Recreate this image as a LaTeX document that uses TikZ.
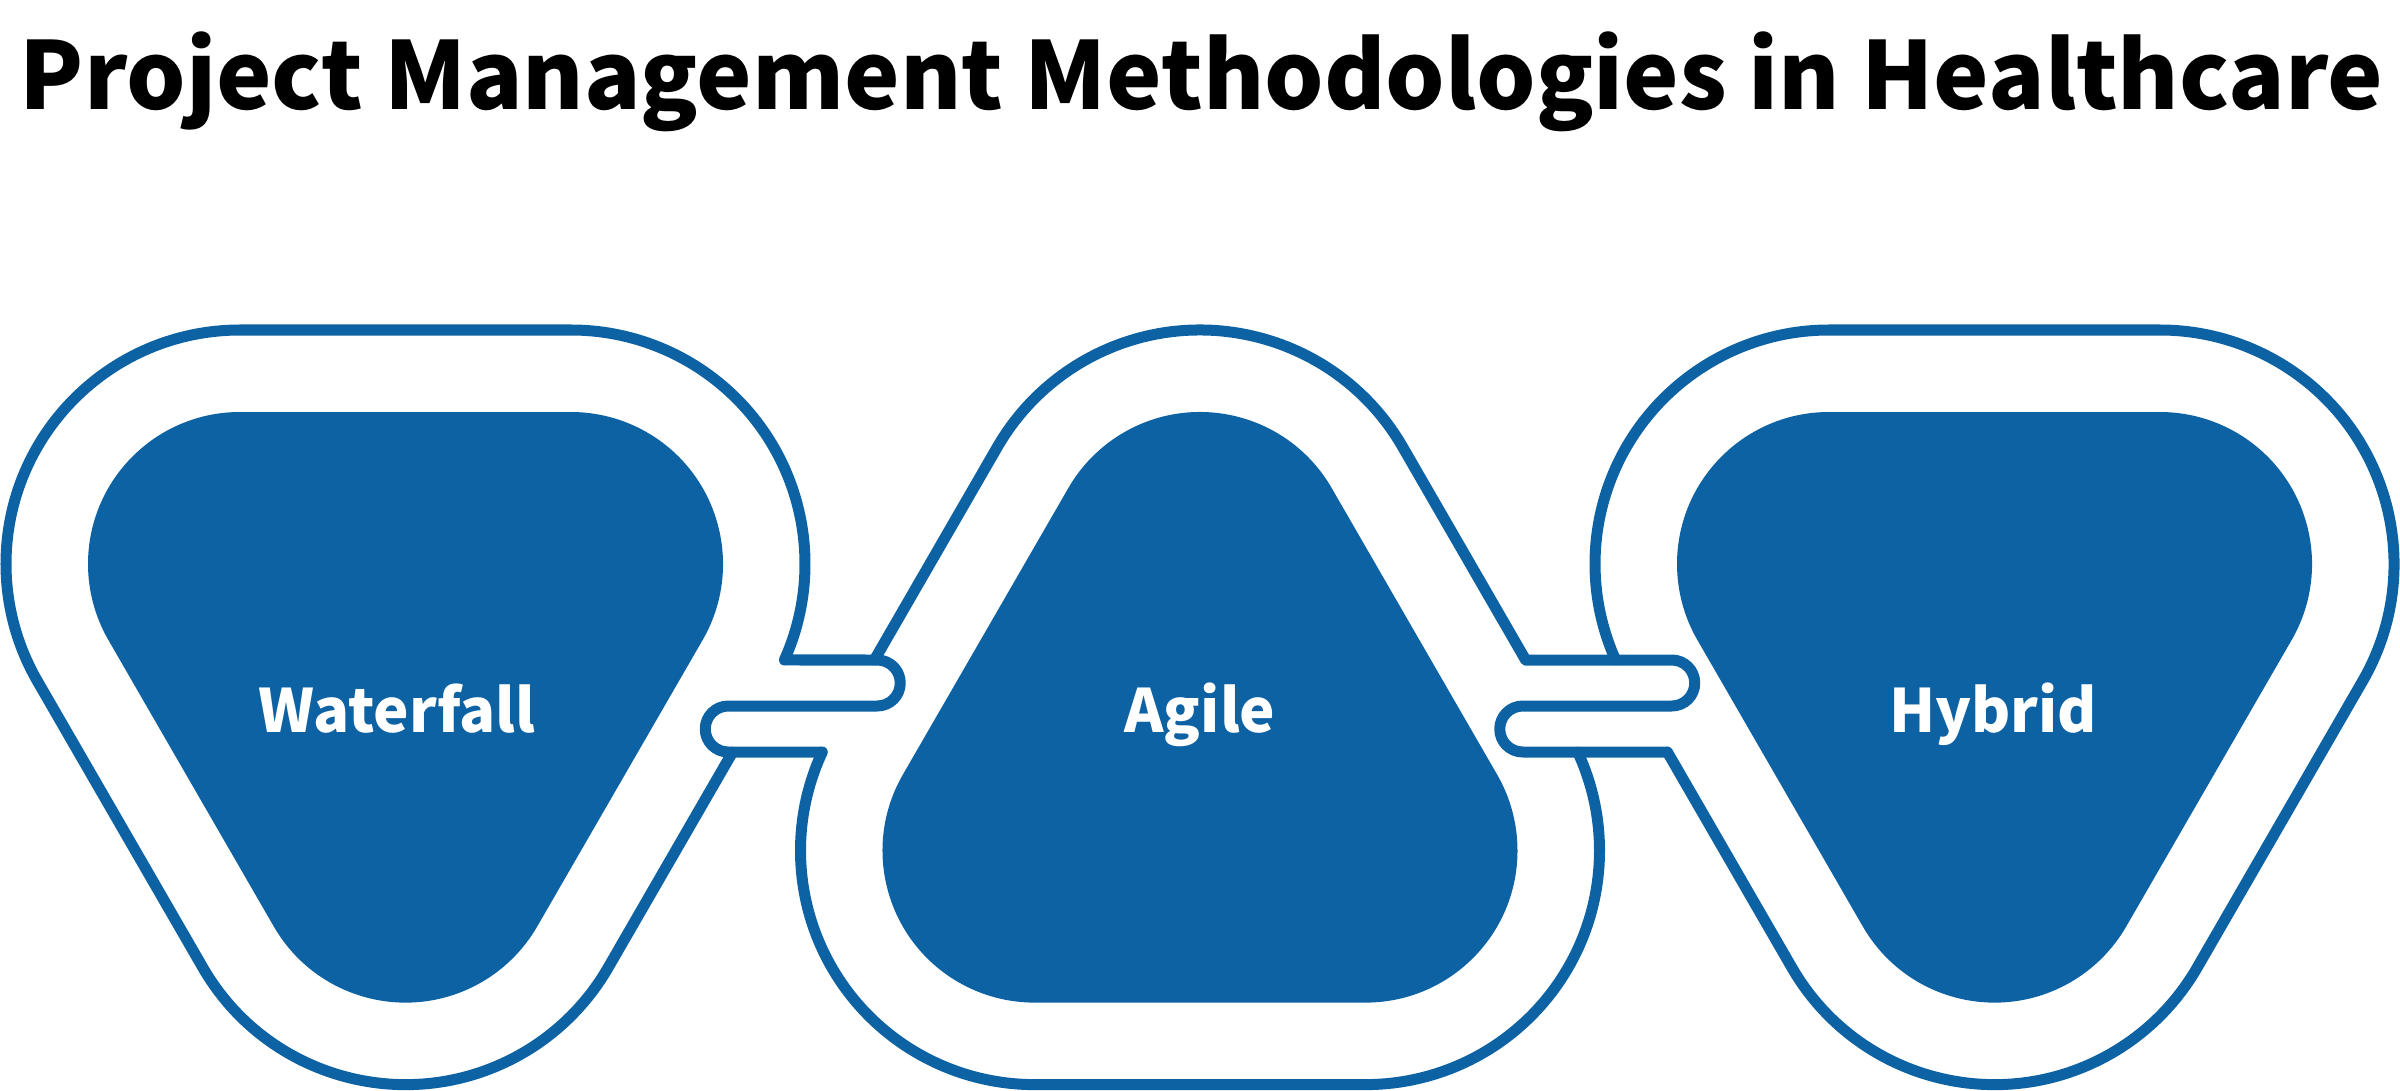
\documentclass[tikz,border=0pt]{standalone}
\usepackage{fontspec}
\newfontfamily\cjk{Noto Sans CJK SC}
\usetikzlibrary{calc}
\definecolor{mblue}{RGB}{13,98,163}
\begin{document}
\begin{tikzpicture}[x=0.01cm,y=0.01cm,
  ring/.style={draw=mblue,line width=0.11cm,line join=round,line cap=round},
  core/.style={fill=mblue},
  lbl/.style={text=white,font=\cjk\bfseries\fontsize{17pt}{18pt}\selectfont,anchor=base,inner sep=0pt},
  ttl/.style={text=black,font=\cjk\bfseries\fontsize{26.6pt}{28pt}\selectfont,anchor=base,inner sep=0pt}]
\useasboundingbox (0,0) rectangle (2400,1090);
% corner centres
\coordinate (WTL) at (240,526);
\coordinate (WTR) at (571,526);
\coordinate (WB) at (405.5,239.4);
\coordinate (AT) at (1200,526);
\coordinate (ABL) at (1034.5,239.4);
\coordinate (ABR) at (1365.5,239.4);
\coordinate (HTL) at (1829,526);
\coordinate (HTR) at (2160,526);
\coordinate (HB) at (1994.5,239.4);
% gap points
\coordinate (w1) at ($(WTR)+(-24.22:234)$);
\coordinate (w2) at (732.65,338);
\coordinate (a1) at (874.37,430);
\coordinate (a2) at ($(ABL)+(155.08:234)$);
\coordinate (a3) at (1525.63,430);
\coordinate (a4) at ($(ABR)+(24.92:234)$);
\coordinate (h1) at ($(HTL)+(204.22:234)$);
\coordinate (h2) at (1667.35,338);
% cap centres
\coordinate (c1) at (877.25,407);
\coordinate (c2) at (728.25,361);
\coordinate (c3) at (1671.75,407);
\coordinate (c4) at (1522.75,361);

% inner shapes
\fill[core] ($(WB)+(210:152)$) arc[start angle=210,end angle=330,radius=152]
  -- ($(WTR)+(330:152)$) arc[start angle=-30,end angle=90,radius=152]
  -- ($(WTL)+(90:152)$) arc[start angle=90,end angle=210,radius=152] -- cycle;
\fill[core] ($(ABR)+(270:152)$) arc[start angle=270,end angle=390,radius=152]
  -- ($(AT)+(30:152)$) arc[start angle=30,end angle=150,radius=152]
  -- ($(ABL)+(150:152)$) arc[start angle=150,end angle=270,radius=152] -- cycle;
\fill[core] ($(HB)+(210:152)$) arc[start angle=210,end angle=330,radius=152]
  -- ($(HTR)+(330:152)$) arc[start angle=-30,end angle=90,radius=152]
  -- ($(HTL)+(90:152)$) arc[start angle=90,end angle=210,radius=152] -- cycle;

% outer outlines
\draw[ring] (w1) arc[start angle=-24.22,end angle=90,radius=234]
  -- ($(WTL)+(90:234)$) arc[start angle=90,end angle=210,radius=234]
  -- ($(WB)+(210:234)$) arc[start angle=210,end angle=330,radius=234]
  -- (w2);
\draw[ring] (a3) -- ($(AT)+(30:234)$) arc[start angle=30,end angle=150,radius=234] -- (a1);
\draw[ring] (a2) arc[start angle=155.08,end angle=270,radius=234]
  -- ($(ABR)+(270:234)$) arc[start angle=270,end angle=384.92,radius=234];
\draw[ring] (h2) -- ($(HB)+(210:234)$) arc[start angle=210,end angle=330,radius=234]
  -- ($(HTR)+(330:234)$) arc[start angle=-30,end angle=90,radius=234]
  -- ($(HTL)+(90:234)$) arc[start angle=90,end angle=204.22,radius=234];

% channels
\draw[ring] (w1) -- ($(c1)+(0,23)$) arc[start angle=90,end angle=-90,radius=23]
  -- ($(c2)+(0,23)$) arc[start angle=90,end angle=270,radius=23] -- (a2);
\draw[ring] (a3) -- ($(c3)+(0,23)$) arc[start angle=90,end angle=-90,radius=23]
  -- ($(c4)+(0,23)$) arc[start angle=90,end angle=270,radius=23] -- (h2);

% labels
\node[lbl] (wlab) at (397,357.3) {Waterfall};
\node[lbl] (alab) at (1200,357.3) {Agile};
\node[lbl] (hlab) at (1993,357.3) {Hybrid};
\node[ttl] (title) at (1201.5,980.7) {Project Management Methodologies in Healthcare};
\end{tikzpicture}
\end{document}
